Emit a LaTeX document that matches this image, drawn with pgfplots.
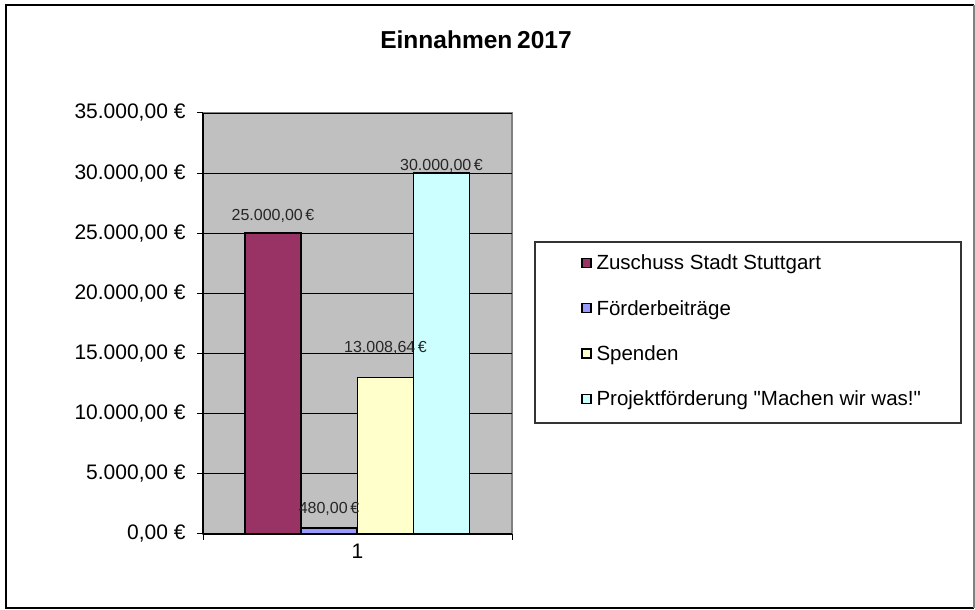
\documentclass[border=0pt]{standalone}
\usepackage{pgfplots}
\pgfplotsset{compat=1.18}
\usepackage{fontspec}
\setmainfont{Liberation Sans}
\definecolor{cZ}{HTML}{993366}
\definecolor{cF}{HTML}{9999FF}
\definecolor{cS}{HTML}{FFFFCC}
\definecolor{cP}{HTML}{CCFFFF}
\definecolor{plotbg}{HTML}{C0C0C0}
\definecolor{frame}{HTML}{808080}
\begin{document}
\begin{tikzpicture}[x=1pt,y=1pt]
\path[use as bounding box] (0,0) rectangle (975,610);
\draw[black, line width=1.5pt] (974,2) -- (6,2) -- (6,605) -- (974,605);
\draw[frame, line width=1.2pt] (974,2) -- (974,605);
\node[font=\fontsize{24.5}{28}\selectfont\bfseries] at (476,570) {Einnahmen\hspace{-2pt} 2017};
\draw[black!80, line width=1.2pt] (535,368) rectangle (961,187);
\begin{axis}[
  at={(203pt,76pt)}, anchor=south west,
  scale only axis, width=309pt, height=421pt,
  xmin=0.5, xmax=1.5, ymin=0, ymax=35000,
  scaled y ticks=false,
  axis background/.style={fill=plotbg, draw=frame, line width=1.2pt},
  axis x line*=bottom, axis y line*=left,
  axis line style={-, black, line width=1.2pt},
  ybar, bar width=56pt,
  ytick={0,5000,10000,15000,20000,25000,30000,35000},
  yticklabels={{0,00 €},{5.000,00 €},{10.000,00 €},{15.000,00 €},{20.000,00 €},{25.000,00 €},{30.000,00 €},{35.000,00 €}},
  xtick={1}, xticklabels={1},
  minor xtick={0.5,1.5},
  minor ytick={0,5000,10000,15000,20000,25000,30000,35000},
  major tick length=0pt, minor tick length=6pt,
  tick align=outside,
  tick style={black, line width=1pt},
  ymajorgrids, grid style={black, line width=0.9pt},
  ticklabel style={font=\fontsize{21}{25}\selectfont},
  yticklabel style={xshift=-14pt},
  xticklabel style={yshift=-7pt},
  legend style={draw=none, fill=none, at={(1.2233,0.662)}, anchor=north west,
    inner sep=0pt, row sep=26.3pt, font=\fontsize{20.5}{24}\selectfont,
    nodes={inner sep=0pt, text height=14.5pt, text depth=4.5pt},
    /tikz/every odd column/.append style={column sep=5pt}},
  legend cell align=left,
  legend image code/.code={\draw[#1, draw=black, line width=1.3pt] (0pt,-2.5pt) rectangle (9pt,6.5pt);},
  every node near coord/.append style={font=\fontsize{16}{18}\selectfont, anchor=center, text=black!85},
  point meta=explicit symbolic,
  nodes near coords,
]
\addplot[fill=cZ, draw=black, line width=1.8pt, bar shift=-84.5pt,
  every node near coord/.append style={yshift=17pt}]
  coordinates {(1,25000) [25.000,00\,€]};
\addlegendentry{Zuschuss Stadt Stuttgart}
\addplot[fill=cF, draw=black, line width=1.8pt, bar shift=-28.5pt,
  every node near coord/.append style={yshift=19pt}]
  coordinates {(1,480) [480,00\,€]};
\addlegendentry{Förderbeiträge}
\addplot[fill=cS, draw=black, line width=1.8pt, bar shift=28pt,
  every node near coord/.append style={yshift=30pt}]
  coordinates {(1,13008.64) [13.008,64\,€]};
\addlegendentry{Spenden}
\addplot[fill=cP, draw=black, line width=1.8pt, bar shift=84pt,
  every node near coord/.append style={yshift=7pt}]
  coordinates {(1,30000) [30.000,00\,€]};
\addlegendentry{Projektförderung \textquotedbl Machen wir was!\textquotedbl}
\end{axis}
\end{tikzpicture}
\end{document}
